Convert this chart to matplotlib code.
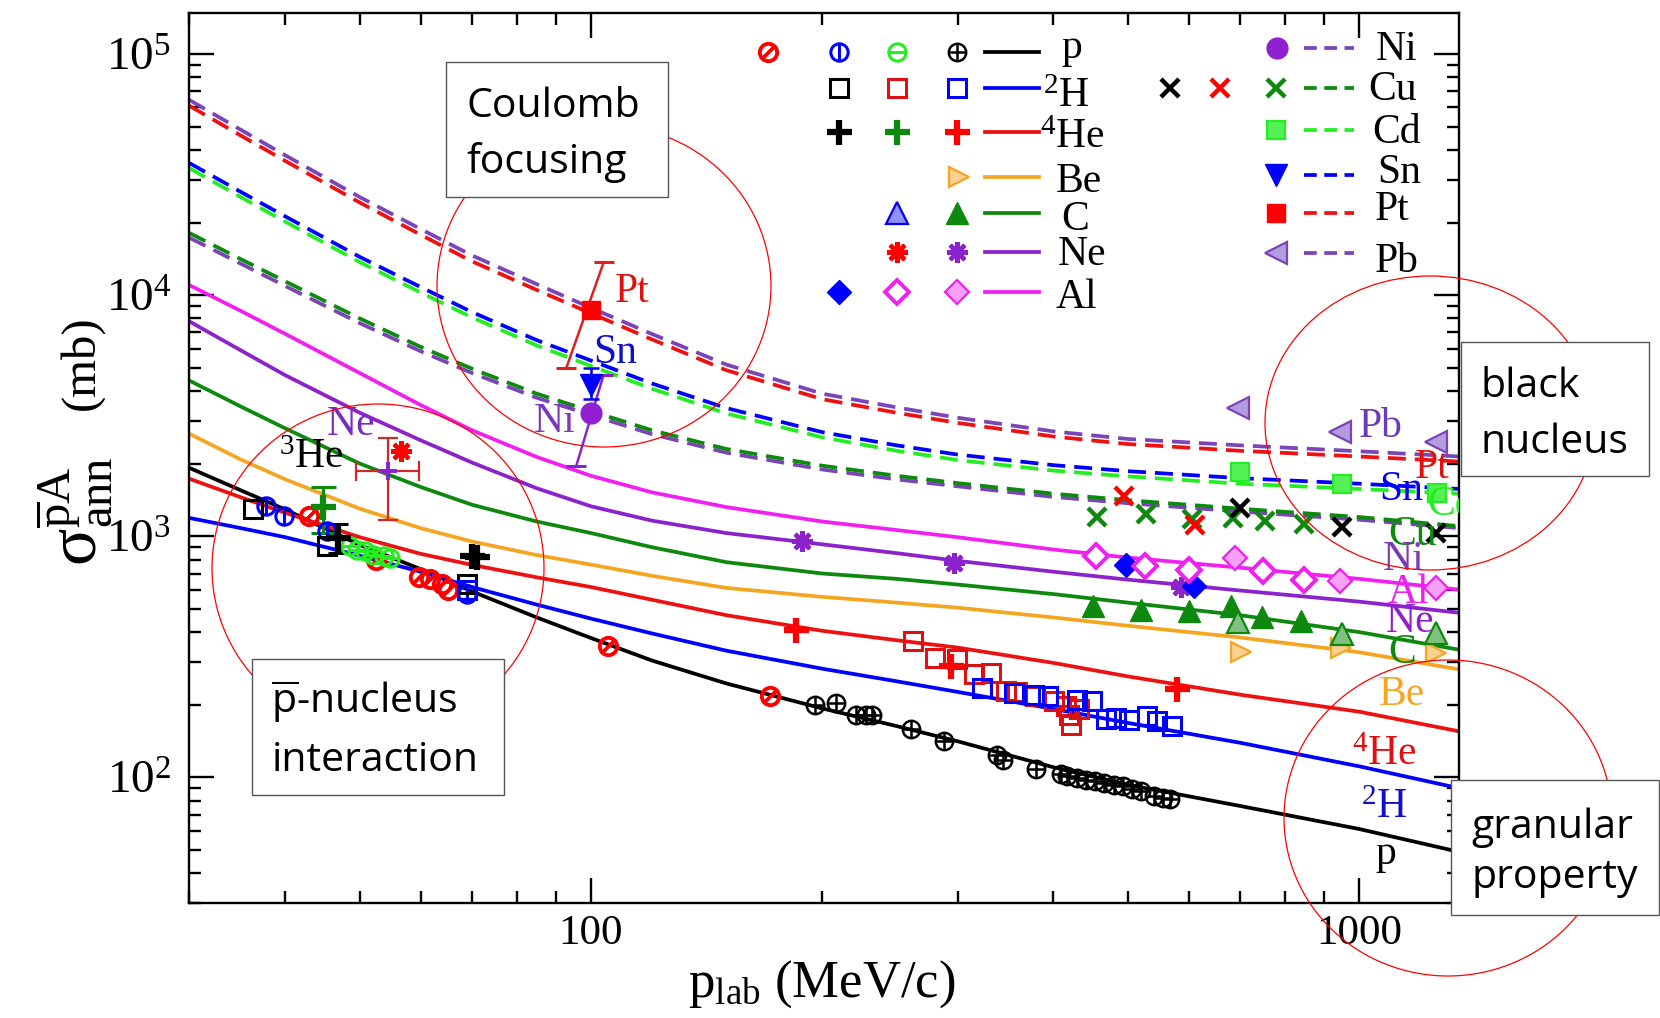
import numpy as np
import matplotlib.pyplot as plt
from matplotlib.patches import Ellipse, Rectangle
from matplotlib.ticker import LogLocator, NullFormatter

plt.rcParams['font.family'] = ['Liberation Serif', 'DejaVu Serif']
plt.rcParams['mathtext.fontset'] = 'custom'
plt.rcParams['mathtext.rm'] = 'Liberation Serif'
plt.rcParams['mathtext.it'] = 'Liberation Serif:italic'
plt.rcParams['mathtext.bf'] = 'Liberation Serif:bold'
plt.rcParams['mathtext.sf'] = 'Open Sans'

W, H = 1660, 1018

# ---- theory curves (p_lab in MeV/c, sigma in mb) ----
plab = [30, 35, 40, 50, 60, 70, 85, 100, 120, 150, 200, 250, 300, 400, 500, 700, 1000, 1350]
sig_p = [1920, 1550, 1290, 920, 730, 590, 460, 378, 305, 245, 193, 163, 141, 110, 93, 76, 61, 49]
sig_h2 = [1190, 1080, 990, 830, 712, 615, 520, 455, 395, 335, 282, 250, 226, 192, 168, 139, 111, 90]
sig_he4 = [1730, 1450, 1250, 990, 845, 760, 675, 615, 545, 470, 405, 370, 345, 298, 262, 220, 187, 155]
sig_be = [2660, 2080, 1720, 1300, 1080, 950, 835, 762, 685, 610, 560, 530, 505, 460, 425, 380, 330, 280]
sig_c = [4420, 3450, 2800, 2000, 1600, 1350, 1150, 1030, 900, 780, 700, 665, 630, 575, 530, 470, 400, 338]
sig_ne = [7780, 5900, 4650, 3250, 2500, 2020, 1580, 1330, 1160, 1030, 925, 850, 790, 712, 660, 595, 535, 481]
sig_al = [11000, 8600, 6900, 4750, 3500, 2750, 2130, 1780, 1520, 1320, 1150, 1060, 990, 880, 815, 740, 665, 600]
sig_pb = [64500, 48500, 38000, 25500, 18800, 14600, 11100, 8850, 6900, 5150, 3900, 3420, 3100, 2720, 2530, 2380, 2250, 2140]
sig_pt = [61000, 45900, 36000, 24200, 17800, 13800, 10500, 8400, 6550, 4880, 3700, 3250, 2950, 2590, 2410, 2260, 2140, 2040]
sig_sn = [35300, 26800, 21200, 14400, 10800, 8500, 6500, 5350, 4300, 3400, 2700, 2380, 2180, 1970, 1860, 1740, 1650, 1570]
sig_cd = [33600, 25500, 20150, 13700, 10250, 8080, 6180, 5080, 4090, 3230, 2570, 2260, 2070, 1870, 1770, 1650, 1570, 1500]
sig_cu = [18100, 14100, 11400, 8000, 6100, 4950, 3900, 3300, 2750, 2300, 1960, 1780, 1660, 1500, 1410, 1300, 1200, 1100]
sig_ni = [17300, 13500, 10900, 7650, 5850, 4750, 3750, 3180, 2650, 2220, 1890, 1720, 1610, 1455, 1370, 1265, 1170, 1080]

# ---- data points ----
pp_x = [196, 208.5, 221, 228, 232, 261, 288, 338, 344, 380, 409, 417, 429, 441, 453, 466, 479, 492, 506, 520, 540, 555, 568]
pp_y = [200, 203, 182, 182, 182, 158, 141, 124, 118, 108, 103, 101, 99.4, 97.8, 96.2, 94.8, 93.3, 91.8, 89.0, 87.6, 83.4, 82.2, 80.9]
rslash_x = [43.0, 52.5, 59.8, 61.8, 63.9, 65.2, 105.3, 171.2]
rslash_y = [1210, 800, 680, 665, 635, 598, 350, 218]
bvbar_x = [37.8, 39.8, 45.3, 68.9]
bvbar_y = [1330, 1210, 1050, 578]
lhbar_x = [48.6, 49.6, 50.8, 52.0, 53.8, 54.7]
lhbar_y = [907, 877, 865, 837, 826, 811]
sqk_x = [36.3, 45.3, 69.0]
sqk_y = [1300, 910, 635]
sqr_x = [262.8, 280.6, 299.5, 315, 331.6, 346.5, 359, 378, 401, 415, 419, 422, 432]
sqr_y = [366, 313, 308, 267, 271, 227, 225, 217, 207, 197, 182, 165, 192]
sqb_x = [69.0, 322.6, 355, 377, 393, 429, 449, 468, 483, 501, 529, 545, 570]
sqb_y = [600, 235, 224, 220, 217, 210, 207, 174, 176, 173, 180, 171, 163]
plk_x = [46.9, 70.0, 71.0]
plk_y = [983, 830, 820]
plg_x = [44.8]
plg_y = [1320]
plr_x = [184.7, 294, 580]
plr_y = [408, 289, 232]
be_dat_x = [702, 948, 1258]
be_dat_y = [331, 344, 329]
c_dat_x = [450, 520, 601, 681, 748, 839]
c_dat_y = [512, 495, 488, 512, 464, 443]
c2_dat_x = [695, 951, 1258]
c2_dat_y = [442, 394, 397]
astr_x = [56.6]
astr_y = [2250]
astp_x = [188, 297, 586]
astp_y = [958, 775, 618]
dib_x = [497, 610]
dib_y = [757, 623]
dim_x = [455, 526, 600, 750, 847]
dim_y = [828, 750, 727, 720, 661]
dimh_x = [690, 944, 1258]
dimh_y = [812, 649, 610]
xg_x = [456, 528, 606, 685, 754, 847]
xg_y = [1200, 1240, 1180, 1190, 1160, 1120]
xr_x = [494, 612]
xr_y = [1470, 1110]
xk_x = [700, 951, 1258]
xk_y = [1310, 1095, 1035]
cd_dat_x = [700, 951, 1262]
cd_dat_y = [1850, 1650, 1515]
pb_dat_x = [695, 943, 1258]
pb_dat_y = [3410, 2700, 2460]
pt_dat = (100, 8690)
pt_err = ([103.9, 92.9], [13700, 5000])
sn_dat = (100, 4250)
sn_err = (3700, 5000)
ni_dat = (100, 3250)
ni_err = ([103.8, 95.7], [4640, 1960])
ne_err = (54.4, 1860, 49.4, 59.7, 1170, 2550)
plg_err = (1030, 1600)
plk_err = (855, 1120)

BLACK, RED, BLUE, LIME = '#000000', '#ff0000', '#0000ff', '#22ee22'
GREEN, ORANGE, VIOLET, MAG = '#0d8a0d', '#f4a622', '#8b22cc', '#f020f0'
INDIGO, NIDOT = '#7b45b8', '#9020d0'

STY = {
    'red_slash': [dict(marker='o', ms=12.5, mfc='none', mec=RED, mew=2.8),
                  dict(marker=(2, 2, -45), ms=12.5, mec=RED, mew=2.4)],
    'blue_vbar': [dict(marker='o', ms=12.5, mfc='none', mec=BLUE, mew=2.2),
                  dict(marker='|', ms=12.5, mec=BLUE, mew=2.2)],
    'lime_hbar': [dict(marker='o', ms=12.5, mfc='none', mec=LIME, mew=2.2),
                  dict(marker='_', ms=12.5, mec=LIME, mew=2.2)],
    'black_oplus': [dict(marker='o', ms=12.5, mfc='none', mec=BLACK, mew=1.8),
                    dict(marker='+', ms=12.5, mec=BLACK, mew=1.8)],
    'sq_black': [dict(marker='s', ms=13.5, mfc='none', mec=BLACK, mew=2.2)],
    'sq_red': [dict(marker='s', ms=13.5, mfc='none', mec='#dd1111', mew=2.2)],
    'sq_blue': [dict(marker='s', ms=13.5, mfc='none', mec=BLUE, mew=2.2)],
    'plus_black': [dict(marker='+', ms=18, mec=BLACK, mew=4.5)],
    'plus_green': [dict(marker='+', ms=18, mec=GREEN, mew=4.5)],
    'plus_red': [dict(marker='+', ms=18, mec=RED, mew=4.5)],
    'tri_r_orange': [dict(marker='>', ms=15, mfc='#f8d090', mec=ORANGE, mew=1.6)],
    'tri_u_blue': [dict(marker='^', ms=16, mfc='#9090ff', mec=BLUE, mew=1.6)],
    'tri_u_green': [dict(marker='^', ms=16, mfc=GREEN, mec=GREEN, mew=1)],
    'tri_u_green_h': [dict(marker='^', ms=16, mfc='#80c080', mec=GREEN, mew=1.6)],
    'ast_red': [dict(marker=(8, 2, 0), ms=15, mec=RED, mew=3)],
    'ast_purple': [dict(marker=(8, 2, 0), ms=15, mec=VIOLET, mew=3)],
    'dia_blue': [dict(marker='D', ms=12.5, mfc=BLUE, mec=BLUE, mew=1)],
    'dia_mag': [dict(marker='D', ms=12.5, mfc='white', mec=MAG, mew=2.8)],
    'dia_mag_h': [dict(marker='D', ms=12.5, mfc='#f8a0f8', mec=MAG, mew=1.6)],
    'circ_purple': [dict(marker='o', ms=15, mfc=NIDOT, mec=NIDOT, mew=1)],
    'x_black': [dict(marker='x', ms=12.5, mec=BLACK, mew=3.2)],
    'x_red': [dict(marker='x', ms=12.5, mec=RED, mew=3.2)],
    'x_green': [dict(marker='x', ms=12.5, mec=GREEN, mew=3.2)],
    'sq_lime': [dict(marker='s', ms=13.5, mfc='#55f055', mec=LIME, mew=1.6)],
    'tri_d_blue': [dict(marker='v', ms=16, mfc=BLUE, mec=BLUE, mew=1)],
    'sq_red_f': [dict(marker='s', ms=13.5, mfc=RED, mec=RED, mew=1)],
    'tri_l_purple': [dict(marker='<', ms=16, mfc='#b59be0', mec=INDIGO, mew=1.6)],
}


def mark(target, x, y, style, **kw):
    for layer in STY[style]:
        target.plot(x, y, ls='none', zorder=4, **layer, **kw)


def fp(x, y):
    # figure pixel (from top-left) -> figure fraction
    return x / W, 1 - y / H


fig = plt.figure(figsize=(W / 100, H / 100), dpi=100)
ax = fig.add_axes([189.3 / W, 1 - 903.3 / H, 1270 / W, 890 / H])
ax.set_xscale('log')
ax.set_yscale('log')
ax.set_xlim(30, 1350)
ax.set_ylim(30, 1.475e5)

# theory curves
LW = 2.7
for ys, col in [(sig_p, BLACK), (sig_h2, BLUE), (sig_he4, '#ee1111'), (sig_be, ORANGE),
                (sig_c, GREEN), (sig_ne, VIOLET), (sig_al, MAG)]:
    ax.plot(plab, ys, color=col, lw=LW, zorder=2)
DASH = (4.8, 2.4)
for ys, col in [(sig_pt, '#ee1111'), (sig_pb, INDIGO), (sig_cd, LIME), (sig_sn, BLUE),
                (sig_ni, INDIGO), (sig_cu, GREEN)]:
    ax.plot(plab, ys, color=col, lw=LW, dashes=DASH, zorder=2)

# error bars
ax.plot(pt_err[0], pt_err[1], color='#e02020', lw=1.8, marker='_', ms=14, mew=2.2, zorder=3)
ax.plot(ni_err[0], ni_err[1], color=VIOLET, lw=1.8, marker='_', ms=14, mew=2.2, zorder=3)
ax.errorbar([sn_dat[0]], [sn_dat[1]], yerr=[[sn_dat[1] - sn_err[0]], [sn_err[1] - sn_dat[1]]],
            fmt='none', ecolor=BLUE, elinewidth=1.8, capsize=6, capthick=1.8, zorder=3)
nx, ny, nx0, nx1, ny0, ny1 = ne_err
ax.errorbar([nx], [ny], xerr=[[nx - nx0], [nx1 - nx]], yerr=[[ny - ny0], [ny1 - ny]],
            fmt='none', ecolor='#d02828', elinewidth=1.6, capsize=7.5, capthick=1.6, zorder=3)
ax.errorbar(plg_x, plg_y, yerr=[[plg_y[0] - plg_err[0]], [plg_err[1] - plg_y[0]]],
            fmt='none', ecolor=GREEN, elinewidth=2.2, capsize=9, capthick=2.2, zorder=3)
ax.errorbar(plk_x[:1], plk_y[:1], yerr=[[plk_y[0] - plk_err[0]], [plk_err[1] - plk_y[0]]],
            fmt='none', ecolor=BLACK, elinewidth=2.2, capsize=7, capthick=2.2, zorder=3)

# data markers
mark(ax, pp_x, pp_y, 'black_oplus')
mark(ax, rslash_x, rslash_y, 'red_slash')
mark(ax, bvbar_x, bvbar_y, 'blue_vbar')
mark(ax, lhbar_x, lhbar_y, 'lime_hbar')
mark(ax, sqk_x, sqk_y, 'sq_black')
mark(ax, sqr_x, sqr_y, 'sq_red')
mark(ax, sqb_x, sqb_y, 'sq_blue')
mark(ax, plk_x, plk_y, 'plus_black')
mark(ax, plg_x, plg_y, 'plus_green')
mark(ax, plr_x, plr_y, 'plus_red')
mark(ax, be_dat_x, be_dat_y, 'tri_r_orange')
mark(ax, c_dat_x, c_dat_y, 'tri_u_green')
mark(ax, c2_dat_x, c2_dat_y, 'tri_u_green_h')
mark(ax, astr_x, astr_y, 'ast_red')
mark(ax, astp_x, astp_y, 'ast_purple')
ax.plot([nx], [ny], ls='none', marker='+', ms=13, mec=VIOLET, mew=2.8, zorder=4)
mark(ax, dib_x, dib_y, 'dia_blue')
mark(ax, dim_x, dim_y, 'dia_mag')
mark(ax, dimh_x, dimh_y, 'dia_mag_h')
mark(ax, xg_x, xg_y, 'x_green')
mark(ax, xr_x, xr_y, 'x_red')
mark(ax, xk_x, xk_y, 'x_black')
mark(ax, cd_dat_x, cd_dat_y, 'sq_lime')
mark(ax, pb_dat_x, pb_dat_y, 'tri_l_purple')
mark(ax, [pt_dat[0]], [pt_dat[1]], 'sq_red_f')
mark(ax, [sn_dat[0]], [sn_dat[1]], 'tri_d_blue')
mark(ax, [ni_dat[0]], [ni_dat[1]], 'circ_purple')

# axes styling
ax.set_xticks([100, 1000], ['100', '1000'])
ax.xaxis.set_minor_locator(LogLocator(base=10, subs=np.arange(2, 10), numticks=20))
ax.xaxis.set_minor_formatter(NullFormatter())
ax.set_yticks([1e2, 1e3, 1e4, 1e5], [r'$10^{2}$', r'$10^{3}$', r'$10^{4}$', r'$10^{5}$'])
ax.yaxis.set_minor_locator(LogLocator(base=10, subs=np.arange(2, 10), numticks=20))
ax.yaxis.set_minor_formatter(NullFormatter())
ax.tick_params(which='both', direction='in', top=True, right=True, width=1.7)
ax.tick_params(which='major', length=18)
ax.tick_params(which='minor', length=8.5)
ax.tick_params(axis='x', labelsize=31, pad=8)
ax.tick_params(axis='y', labelsize=34, pad=13)
for sp in ax.spines.values():
    sp.set_linewidth(1.7)

# axis titles
fig.text(*fp(822, 984), r'p$_{\mathrm{lab}}$ (MeV/c)', fontsize=38, ha='center', va='center')
fig.text(*fp(74, 511), r'$\mathrm{\sigma}^{\overline{\mathrm{p}}\mathrm{A}}_{\mathrm{ann}}$',
         fontsize=50, rotation=90, ha='center', va='center')
fig.text(*fp(81, 363), '(mb)', fontsize=35, rotation=90, ha='center', va='center')

# legend block (layout in figure pixels)
ftr = fig.transFigure
left_rows = [
    (51.7, [(767.8, 'red_slash'), (838.5, 'blue_vbar'), (897, 'lime_hbar'), (957, 'black_oplus')], BLACK),
    (88.3, [(838.5, 'sq_black'), (897, 'sq_red'), (957, 'sq_blue')], BLUE),
    (131.7, [(838.5, 'plus_black'), (897, 'plus_green'), (957, 'plus_red')], '#ee1111'),
    (176.7, [(959, 'tri_r_orange')], ORANGE),
    (213.3, [(897, 'tri_u_blue'), (957, 'tri_u_green')], GREEN),
    (251.7, [(897, 'ast_red'), (957, 'ast_purple')], VIOLET),
    (291.7, [(838.5, 'dia_blue'), (897, 'dia_mag'), (957, 'dia_mag_h')], MAG),
]
for yy, marks, col in left_rows:
    for xx, st in marks:
        mark(ax, [xx / W], [1 - yy / H], st, transform=ftr, clip_on=False)
    ax.plot([985 / W, 1039 / W], [1 - yy / H] * 2, color=col, lw=LW, transform=ftr, clip_on=False)
left_labels = [('p', 1061, 58), (r'${}^{2}$H', 1043, 107), (r'${}^{4}$He', 1040, 148),
               ('Be', 1056, 192), ('C', 1061, 230), ('Ne', 1058, 265), ('Al', 1056, 308)]
for t, xx, yy in left_labels:
    fig.text(*fp(xx, yy), t, fontsize=30, ha='left', va='baseline')

right_rows = [
    (48.3, [(1276.8, 'circ_purple')], INDIGO),
    (88.3, [(1170, 'x_black'), (1219.6, 'x_red'), (1276, 'x_green')], GREEN),
    (130, [(1276, 'sq_lime')], LIME),
    (175, [(1276, 'tri_d_blue')], BLUE),
    (213.3, [(1276, 'sq_red_f')], '#ee1111'),
    (253.3, [(1276, 'tri_l_purple')], INDIGO),
]
for yy, marks, col in right_rows:
    for xx, st in marks:
        mark(ax, [xx / W], [1 - yy / H], st, transform=ftr, clip_on=False)
    ax.plot([1303.5 / W, 1354.4 / W], [1 - yy / H] * 2, color=col, lw=LW, dashes=(3.4, 2.0),
            transform=ftr, clip_on=False)
right_labels = [('Ni', 1376, 60), ('Cu', 1368, 100), ('Cd', 1372, 143),
                ('Sn', 1377, 183), ('Pt', 1375, 220), ('Pb', 1375, 272)]
for t, xx, yy in right_labels:
    fig.text(*fp(xx, yy), t, fontsize=30, ha='left', va='baseline')

# curve labels
curve_labels = [
    ('Pb', 1359, 437, '#6a3db5'), ('Pt', 1415, 478, '#e01010'), ('Sn', 1379, 500, BLUE),
    ('Cd', 1427, 515, LIME), ('Cu', 1388, 545, GREEN), ('Ni', 1383, 570, '#7a3ab8'),
    ('Al', 1388, 603, MAG), ('Ne', 1386, 632, VIOLET), ('C', 1388, 663, GREEN),
    ('Be', 1379, 705, ORANGE), (r'${}^{4}$He', 1352, 765, '#e01010'),
    (r'${}^{2}$H', 1361, 818, '#1010cc'), ('p', 1375, 864, BLACK),
    ('Pt', 615, 301.7, '#e01010'), ('Sn', 593, 363, '#1010cc'), ('Ni', 533.6, 432, '#7a3ab8'),
    ('Ne', 327, 435, '#7a2ac0'), (r'${}^{3}$He', 279, 468, BLACK),
]
for t, xx, yy, col in curve_labels:
    ax.text(*fp(xx, yy), t, fontsize=30, color=col, ha='left', va='baseline',
            transform=ftr, clip_on=True, zorder=5)

# red circles
for cx, cy, rx, ry in [(604, 286, 167, 161), (378, 568, 166, 164), (1430, 423, 165, 147),
                       (1448, 818, 164, 158)]:
    fig.add_artist(Ellipse(fp(cx, cy), 2 * rx / W, 2 * ry / H, transform=ftr, fill=False,
                           ec='#ff0000', lw=0.9, zorder=5))

# annotation boxes
boxes = [
    ((446, 61.7, 668, 197.3), [('Coulomb', 466.7, 117), ('focusing', 466.7, 173)]),
    ((251.5, 659, 504, 795), [(r'$\overline{\mathsf{p}}$-nucleus', 271.4, 713), ('interaction', 271.4, 771)]),
    ((1461, 342, 1649, 476), [('black', 1480, 397), ('nucleus', 1480, 453)]),
    ((1451, 780, 1659, 915), [('granular', 1471.7, 838), ('property', 1471.7, 888)]),
]
for (x0, y0, x1, y1), lines in boxes:
    fig.add_artist(Rectangle(fp(x0, y1), (x1 - x0) / W, (y1 - y0) / H, transform=ftr,
                             fc='white', ec='#555555', lw=1.0, zorder=6))
    for t, xx, yy in lines:
        fig.text(*fp(xx, yy), t, family='Open Sans', fontsize=29.5, ha='left', va='baseline', zorder=7)

fig.savefig('out.png', dpi=100)
